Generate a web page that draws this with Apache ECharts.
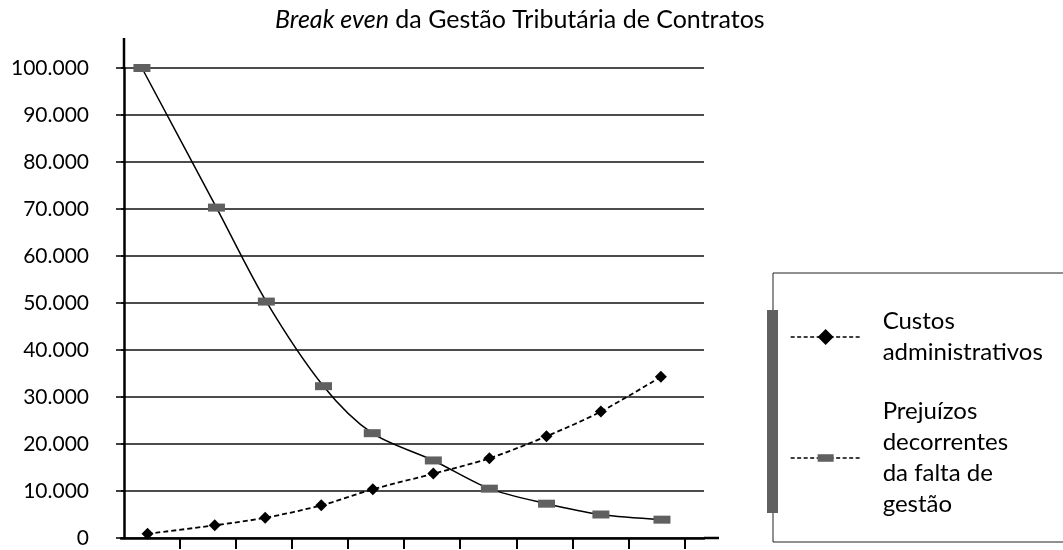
<!DOCTYPE html>
<html>
<head>
<meta charset="utf-8">
<title>Break even</title>
<script src="https://cdn.jsdelivr.net/npm/echarts@6/dist/echarts.min.js"></script>
<style>
  html, body { margin: 0; padding: 0; background: #fff; }
  #chart { width: 1063px; height: 550px; }
</style>
</head>
<body>
<div id="chart"></div>
<script>
  // valores
  var xCustos = [0.42, 1.62, 2.52, 3.52, 4.44, 5.52, 6.52, 7.54, 8.51, 9.58]
  var yCustos = [900, 2700, 4300, 6950, 10350, 13700, 16950, 21650, 26900, 34300]
  var xPrejuizos = [0.32, 1.65, 2.54, 3.56, 4.43, 5.52, 6.52, 7.54, 8.51, 9.6]
  var yPrejuizos = [100000, 70300, 50300, 32300, 22300, 16500, 10500, 7300, 5000, 3900]
  var xTicks = [1, 2, 3, 4, 5, 6, 7, 8, 9, 10]
  var yTicks = [0, 10000, 20000, 30000, 40000, 50000, 60000, 70000, 80000, 90000, 100000]
  var seriesNames = ['Custos administrativos', 'Prejuízos decorrentes da falta de gestão']
  var legendLabels = ['Custos\nadministrativos', 'Prejuízos\ndecorrentes\nda falta de\ngestão']

  function pairs (xs, ys) {
    return xs.map(function (x, i) { return [x, ys[i]] })
  }
  function milhar (v) {
    return String(v).replace(/\B(?=(\d{3})+(?!\d))/g, '.')
  }

  var font = 'Lato'
  var option = {
    animation: false,
    backgroundColor: '#fff',
    title: {
      text: '{i|Break even} da Gestão Tributária de Contratos',
      left: 275,
      top: 7,
      padding: 0,
      textStyle: {
        fontFamily: font,
        fontSize: 25,
        fontWeight: 'normal',
        color: '#000',
        rich: {
          i: { fontFamily: font, fontSize: 25, fontStyle: 'italic', color: '#000' }
        }
      }
    },
    grid: { left: 121, top: 68, right: 359, bottom: 12, containLabel: false },
    xAxis: {
      type: 'value',
      min: -0.0535,
      max: 10.35,
      axisLine: {
        show: true,
        symbol: ['none', 'rect'],
        symbolSize: [2.5, 15],
        symbolOffset: [0, 7.5],
        lineStyle: { color: '#000', width: 2.5 }
      },
      axisTick: {
        show: true,
        inside: false,
        length: 11,
        customValues: xTicks,
        lineStyle: { color: '#000', width: 2 }
      },
      axisLabel: { show: false },
      splitLine: { show: false }
    },
    yAxis: {
      type: 'value',
      min: yTicks[0],
      max: yTicks[yTicks.length - 1],
      interval: 10000,
      axisLine: {
        show: true,
        symbol: ['none', 'rect'],
        symbolSize: [2.5, 30],
        symbolOffset: [0, 15],
        lineStyle: { color: '#000', width: 2.5 }
      },
      axisTick: { show: true, inside: false, length: 8, lineStyle: { color: '#000', width: 1.5 } },
      axisLabel: {
        margin: 32,
        fontFamily: font,
        fontSize: 21,
        color: '#000',
        formatter: function (v) { return milhar(v) }
      },
      splitLine: { show: true, lineStyle: { color: '#111', width: 1.5 } }
    },
    legend: {
      orient: 'vertical',
      left: 773,
      top: 273,
      height: 260,
      padding: [33, 400, 22, 17],
      borderColor: '#222',
      borderWidth: 1,
      itemWidth: 70,
      itemHeight: 20,
      itemGap: 28,
      selectedMode: false,
      data: seriesNames,
      lineStyle: { color: '#000', width: 1.3, type: [4, 2.5] },
      formatter: function (name) { return legendLabels[seriesNames.indexOf(name)] },
      textStyle: {
        fontFamily: font,
        fontSize: 24,
        lineHeight: 31,
        color: '#000',
        padding: [0, 0, 0, 17]
      }
    },
    graphic: [
      // barra cinza que aparece na borda da legenda
      { type: 'rect', left: 767, top: 310, z: 100, shape: { width: 11, height: 203 }, style: { fill: '#606060' } }
    ],
    series: [
      {
        name: seriesNames[0],
        type: 'line',
        smooth: 0.3,
        symbol: 'diamond',
        symbolSize: 12,
        itemStyle: { color: '#000', borderWidth: 0 },
        lineStyle: { color: '#000', width: 1.8, type: [5, 3] },
        data: pairs(xCustos, yCustos),
        z: 3
      },
      {
        name: seriesNames[1],
        type: 'line',
        smooth: 0.3,
        symbol: 'path://M0,4.5h17v8h-17z M0,0 M17,17',
        symbolSize: 17,
        itemStyle: { color: '#606060', borderWidth: 0 },
        lineStyle: { color: '#000', width: 1.5 },
        data: pairs(xPrejuizos, yPrejuizos),
        z: 2
      }
    ]
  }

  var chart = echarts.init(document.getElementById('chart'))
  chart.setOption(option)
</script>
</body>
</html>
